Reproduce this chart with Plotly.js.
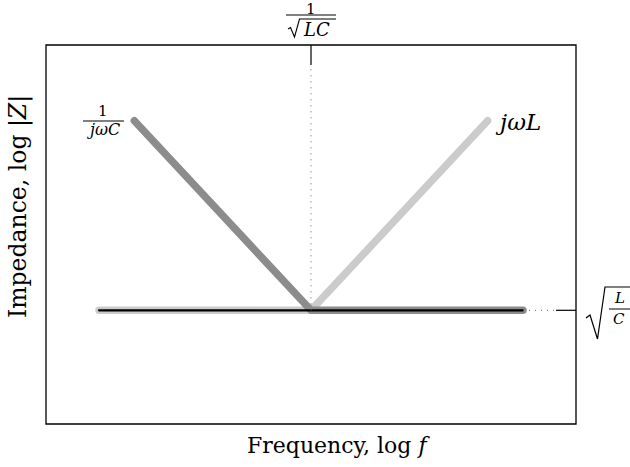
<!DOCTYPE html>
<html>
<head>
<meta charset="utf-8">
<script src="https://cdn.plot.ly/plotly-3.0.1.min.js"></script>
<style>
  html, body { margin: 0; padding: 0; background: #fff; }
  #chart { width: 630px; height: 467px; }
  /* rounded ends on the asymptote strokes */
  .scatterlayer .js-line { stroke-linecap: round; stroke-linejoin: round; }
</style>
</head>
<body>
<div id="chart"></div>
<script>
// Asymptotic impedance of an ideal L and C versus frequency (log-log)
// log f measured in decades from resonance, log |Z| relative to sqrt(L/C)
const capLogF = [-1.0, 0.0, 1.2];   // capacitor 1/(jωC)
const capLogZ = [1.0, 0.0, 0.0];
const indLogF = [-1.2, 0.0, 1.0];   // inductor jωL
const indLogZ = [0.0, 0.0, 1.0];
const refLogF = [-1.2, 1.2];        // characteristic impedance sqrt(L/C)
const refLogZ = [0.0, 0.0];
const resonanceLogF = 0.0;          // f = 1/sqrt(LC)
const charLogZ = 0.0;               // |Z| = sqrt(L/C)

const xTitle = 'Frequency, log <i>f</i>';
const yTitle = 'Impedance, log |<i>Z</i>|';

const xRange = [-1.5, 1.5];
const yRange = [-0.6, 1.4];

// page geometry
const W = 630, H = 467;
const M = { l: 46, r: 54, t: 45, b: 43 };
const PW = W - M.l - M.r, PH = H - M.t - M.b;
const PX = p => (p - M.l) / PW;          // pixel x -> paper
const PY = p => (H - M.b - p) / PH;      // pixel y -> paper
const pxPerY = PH / (yRange[1] - yRange[0]);
const pxPerX = PW / (xRange[1] - xRange[0]);

const FONT = 'DejaVu Serif, Liberation Serif, serif';

const traces = [
  { x: indLogF, y: indLogZ, mode: 'lines', line: { color: '#cbcbcb', width: 7.5 }, hoverinfo: 'skip' },
  { x: capLogF, y: capLogZ, mode: 'lines', line: { color: '#8c8c8c', width: 7.5 }, hoverinfo: 'skip' },
  { x: refLogF, y: refLogZ, mode: 'lines', line: { color: '#000000', width: 2.2 }, hoverinfo: 'skip' }
];

function pathPx(points) {
  return points.map((p, i) => (i ? 'L' : 'M') + PX(p[0]).toFixed(5) + ',' + PY(p[1]).toFixed(5)).join(' ');
}

const tickLen = 20;
const shapes = [
  // frame
  { type: 'rect', xref: 'paper', yref: 'paper', x0: 0, x1: 1, y0: 0, y1: 1,
    line: { color: '#000', width: 1.3 }, layer: 'above' },
  // resonance marker: dotted guide + solid tick from the top edge
  { type: 'line', xref: 'x', yref: 'y', x0: resonanceLogF, x1: resonanceLogF,
    y0: charLogZ, y1: yRange[1] - tickLen / pxPerY, line: { color: '#666', width: 1, dash: '1px,5px' } },
  { type: 'line', xref: 'x', yref: 'y', x0: resonanceLogF, x1: resonanceLogF,
    y0: yRange[1] - tickLen / pxPerY, y1: yRange[1], line: { color: '#000', width: 1.2 } },
  // characteristic impedance marker on the right edge
  { type: 'line', xref: 'x', yref: 'y', x0: refLogF[1], x1: xRange[1] - tickLen / pxPerX,
    y0: charLogZ, y1: charLogZ, line: { color: '#666', width: 1, dash: '1px,5px' } },
  { type: 'line', xref: 'x', yref: 'y', x0: xRange[1] - tickLen / pxPerX, x1: xRange[1],
    y0: charLogZ, y1: charLogZ, line: { color: '#000', width: 1.2 } },
  // fraction bars
  { type: 'line', xref: 'paper', yref: 'paper', x0: PX(286), x1: PX(336), y0: PY(15), y1: PY(15),
    line: { color: '#000', width: 1 } },
  { type: 'line', xref: 'paper', yref: 'paper', x0: PX(83), x1: PX(124), y0: PY(121), y1: PY(121),
    line: { color: '#000', width: 1 } },
  { type: 'line', xref: 'paper', yref: 'paper', x0: PX(609), x1: PX(632), y0: PY(309), y1: PY(309),
    line: { color: '#000', width: 1 } },
  // radical signs
  { type: 'path', xref: 'paper', yref: 'paper',
    path: pathPx([[288, 29], [290.5, 27.5], [294.5, 37], [299.5, 19], [336, 19]]),
    line: { color: '#000', width: 1.1 } },
  { type: 'path', xref: 'paper', yref: 'paper',
    path: pathPx([[586, 318], [590, 315], [597.5, 339], [605, 287], [632, 287]]),
    line: { color: '#000', width: 1.2 } }
];

function label(px, py, text, size, xanchor) {
  return { xref: 'paper', yref: 'paper', x: PX(px), y: PY(py), text: text, showarrow: false,
    xanchor: xanchor || 'center', yanchor: 'middle', font: { family: FONT, size: size, color: '#000' } };
}

const annotations = [
  // 1/sqrt(LC)
  label(311, 8.5, '1', 15),
  label(316, 29, '<i>LC</i>', 18),
  // 1/(jωC)
  label(103, 111.5, '1', 15),
  label(103, 129.5, '<i>jωC</i>', 16),
  // jωL
  label(493, 122, '<i>jωL</i>', 23, 'left'),
  // sqrt(L/C)
  label(619, 298, '<i>L</i>', 15),
  label(619, 319, '<i>C</i>', 15),
  // axis titles
  label(338, 445, xTitle, 22),
  Object.assign(label(18, 207, yTitle, 23.5), { textangle: -90 })
];

const layout = {
  width: W, height: H,
  margin: M,
  paper_bgcolor: '#fff', plot_bgcolor: '#fff',
  showlegend: false,
  xaxis: { range: xRange, showgrid: false, zeroline: false, showline: false, showticklabels: false, ticks: '', fixedrange: true },
  yaxis: { range: yRange, showgrid: false, zeroline: false, showline: false, showticklabels: false, ticks: '', fixedrange: true },
  shapes: shapes,
  annotations: annotations
};

Plotly.newPlot('chart', traces, layout, { staticPlot: true, displayModeBar: false });
</script>
</body>
</html>
